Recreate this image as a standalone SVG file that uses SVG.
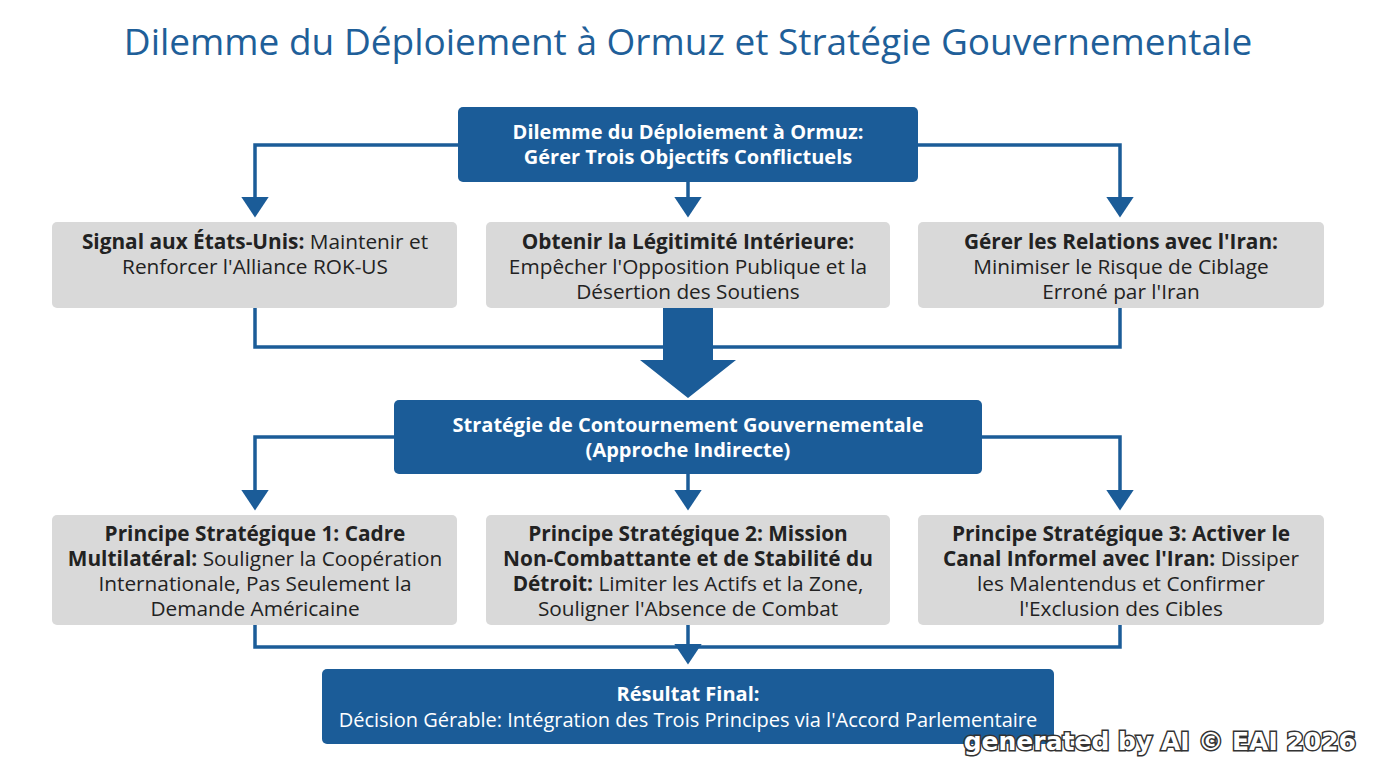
<svg xmlns="http://www.w3.org/2000/svg" width="1376" height="768" viewBox="0 0 1376 768">
<style>
.t{font-family:"Open Sans","Liberation Sans",Arial,sans-serif;text-anchor:middle}
.blue{fill:#1b5c98}
.gray{fill:#d9d9d9}
.w{fill:#fff;font-size:20px}
.k{fill:#222;font-size:20.8px}
.b{font-weight:bold}
.c{stroke:#1b5c98;stroke-width:3.5;fill:none}
</style>
<defs><marker id="a" markerWidth="8" markerHeight="8" refX="5" refY="4" orient="auto" markerUnits="strokeWidth"><path d="M0,0 L6,4 L0,8 z" fill="#1b5c98"/></marker></defs>
<rect width="1376" height="768" fill="#fff"/>
<text class="t" x="688" y="55" font-size="37" fill="#1f5f99">Dilemme du Déploiement à Ormuz et Stratégie Gouvernementale</text>
<g id="connectors">
<path class="c" d="M458,145 H255 V214" marker-end="url(#a)"/>
<path class="c" d="M918,145 H1120 V214" marker-end="url(#a)"/>
<path class="c" d="M688,182 V214" marker-end="url(#a)"/>
<path class="c" d="M255,308 V347 H1120 V308"/>
<path d="M663,308 H713 V360 H736 L688,398 L640,360 H663 Z" fill="#1b5c98"/>
<path class="c" d="M394,437 H255 V507" marker-end="url(#a)"/>
<path class="c" d="M982,437 H1120 V507" marker-end="url(#a)"/>
<path class="c" d="M688,474 V507" marker-end="url(#a)"/>
<path class="c" d="M255,625 V647 H1120 V625"/>
<path class="c" d="M688,625 V661" marker-end="url(#a)"/>
</g>
<g id="top"><rect class="blue" x="458" y="107" width="460" height="75" rx="5"/>
<text class="t w b" x="688" y="139">Dilemme du Déploiement à Ormuz:</text>
<text class="t w b" x="688" y="164">Gérer Trois Objectifs Conflictuels</text></g>
<g id="n1"><rect class="gray" x="52" y="222" width="405" height="86" rx="5"/>
<text class="t k" x="255" y="249"><tspan class="b">Signal aux États-Unis:</tspan> Maintenir et</text>
<text class="t k" x="255" y="274">Renforcer l'Alliance ROK-US</text></g>
<g id="n2"><rect class="gray" x="486" y="222" width="404" height="86" rx="5"/>
<text class="t k b" x="688" y="249">Obtenir la Légitimité Intérieure:</text>
<text class="t k" x="688" y="274">Empêcher l'Opposition Publique et la</text>
<text class="t k" x="688" y="299">Désertion des Soutiens</text></g>
<g id="n3"><rect class="gray" x="918" y="222" width="406" height="86" rx="5"/>
<text class="t k b" x="1121" y="249">Gérer les Relations avec l'Iran:</text>
<text class="t k" x="1121" y="274">Minimiser le Risque de Ciblage</text>
<text class="t k" x="1121" y="299">Erroné par l'Iran</text></g>
<g id="strat"><rect class="blue" x="394" y="400" width="588" height="74" rx="5"/>
<text class="t w b" x="688" y="432">Stratégie de Contournement Gouvernementale</text>
<text class="t w b" x="688" y="457">(Approche Indirecte)</text></g>
<g id="p1"><rect class="gray" x="52" y="515" width="405" height="110" rx="5"/>
<text class="t k b" x="255" y="541">Principe Stratégique 1: Cadre</text>
<text class="t k" x="255" y="566"><tspan class="b">Multilatéral:</tspan> Souligner la Coopération</text>
<text class="t k" x="255" y="591">Internationale, Pas Seulement la</text>
<text class="t k" x="255" y="616">Demande Américaine</text></g>
<g id="p2"><rect class="gray" x="486" y="515" width="404" height="110" rx="5"/>
<text class="t k b" x="688" y="541">Principe Stratégique 2: Mission</text>
<text class="t k b" x="688" y="566">Non-Combattante et de Stabilité du</text>
<text class="t k" x="688" y="591"><tspan class="b">Détroit:</tspan> Limiter les Actifs et la Zone,</text>
<text class="t k" x="688" y="616">Souligner l'Absence de Combat</text></g>
<g id="p3"><rect class="gray" x="918" y="515" width="406" height="110" rx="5"/>
<text class="t k b" x="1121" y="541">Principe Stratégique 3: Activer le</text>
<text class="t k" x="1121" y="566"><tspan class="b">Canal Informel avec l'Iran:</tspan> Dissiper</text>
<text class="t k" x="1121" y="591">les Malentendus et Confirmer</text>
<text class="t k" x="1121" y="616">l'Exclusion des Cibles</text></g>
<g id="result"><rect class="blue" x="322" y="669" width="732" height="75" rx="5"/>
<text class="t w b" x="688" y="701">Résultat Final:</text>
<text class="t w" x="688" y="727" font-size="20.5">Décision Gérable: Intégration des Trois Principes via l'Accord Parlementaire</text></g>
<text x="1356" y="750" font-family="'DejaVu Sans',sans-serif" font-weight="bold" font-size="25" text-anchor="end" fill="#fff" stroke="#333" stroke-width="3" paint-order="stroke">generated by AI © EAI 2026</text>
</svg>
